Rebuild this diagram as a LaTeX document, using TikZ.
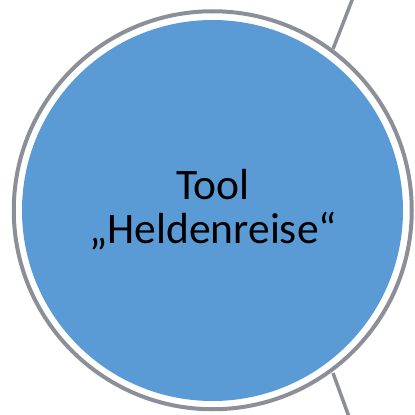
\documentclass[tikz,border=0pt]{standalone}
\usepackage{fontspec}
\setmainfont{Carlito}
\definecolor{ringgray}{HTML}{8C8F97}
\definecolor{fillblue}{HTML}{5B9BD5}
\begin{document}
\begin{tikzpicture}[x=1pt,y=-1pt,
  ring/.style={circle,draw=ringgray,line width=4pt,minimum size=398pt,inner sep=0pt},
  disk/.style={circle,fill=fillblue,minimum size=381pt,inner sep=0pt},
  conn/.style={draw=ringgray,line width=3.5pt},
  lbl/.style={anchor=base,inner sep=0pt,font=\fontsize{43.5}{48}\selectfont}]
\useasboundingbox (0,0) rectangle (415,415);
\coordinate (upEnd) at (356,-10);
\coordinate (loEnd) at (352,425);
\coordinate (upStart) at (333,49);
\coordinate (loStart) at (333,373);
\draw[conn] (upStart) -- (upEnd);
\draw[conn] (loStart) -- (loEnd);
\node[ring] (outer) at (212.75,210.25) {};
\node[disk] (inner) at (212.5,210.5) {};
\node[lbl] (line1) at (213,199) {Tool};
\node[lbl] (line2) at (213,243) {„Heldenreise“};
\end{tikzpicture}
\end{document}
